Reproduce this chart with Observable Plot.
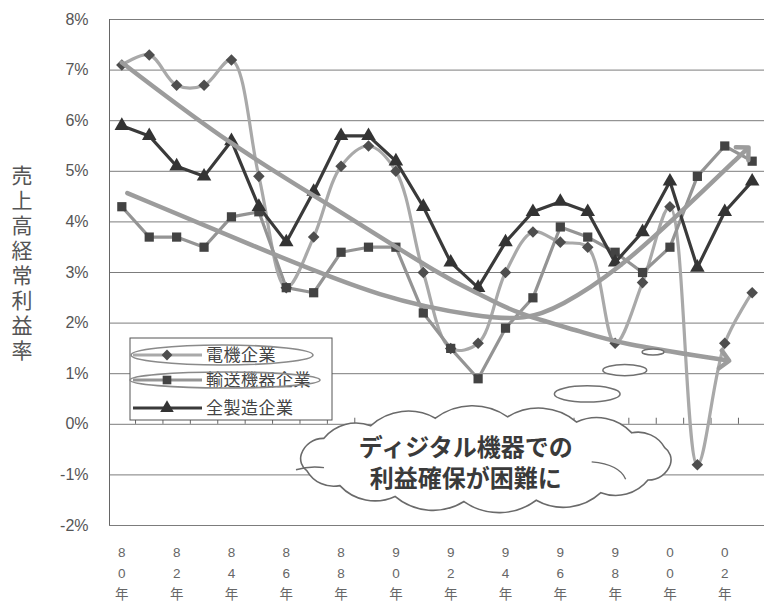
<!DOCTYPE html>
<html>
<head>
<meta charset="utf-8">
<script src="https://cdn.jsdelivr.net/npm/d3@7"></script>
<script src="https://cdn.jsdelivr.net/npm/@observablehq/plot@0.6"></script>
<style>
  html, body { margin: 0; padding: 0; background: #fff; }
  #chart svg { display: block; }
</style>
</head>
<body>
<div id="chart"></div>
<script>
// Fiscal years on the horizontal axis
const years = [1980, 1981, 1982, 1983, 1984, 1985, 1986, 1987, 1988, 1989, 1990, 1991,
               1992, 1993, 1994, 1995, 1996, 1997, 1998, 1999, 2000, 2001, 2002, 2003];

// Ordinary profit to sales ratio (%)
const electric  = [7.1, 7.3, 6.7, 6.7, 7.2, 4.9, 2.7, 3.7, 5.1, 5.5, 5.0, 3.0,
                   1.5, 1.6, 3.0, 3.8, 3.6, 3.5, 1.6, 2.8, 4.3, -0.8, 1.6, 2.6];
const transport = [4.3, 3.7, 3.7, 3.5, 4.1, 4.2, 2.7, 2.6, 3.4, 3.5, 3.5, 2.2,
                   1.5, 0.9, 1.9, 2.5, 3.9, 3.7, 3.4, 3.0, 3.5, 4.9, 5.5, 5.2];
const allMfg    = [5.9, 5.7, 5.1, 4.9, 5.6, 4.3, 3.6, 4.6, 5.7, 5.7, 5.2, 4.3,
                   3.2, 2.7, 3.6, 4.2, 4.4, 4.2, 3.2, 3.8, 4.8, 3.1, 4.2, 4.8];

const seriesNames = ["電機企業", "輸送機器企業", "全製造企業"];

// Hand-drawn trend arrows (year, %)
const declineYears  = [1980.0, 1984.0, 1987.7, 1991.9, 1993.0, 1994.3, 1996.8, 1998.1, 2002.0];
const declineValues = [7.15, 5.5, 4.3, 2.85, 2.6, 2.2, 1.83, 1.6, 1.27];
const recoveryYears  = [1980.2, 1985.0, 1989.6, 1993.1, 1994.7, 1996.0, 1998.1, 2000.4, 2002.75];
const recoveryValues = [4.57, 3.48, 2.46, 2.12, 2.06, 2.32, 3.05, 4.19, 5.41];

// Axis ticks and labels
const yTicks = [8, 7, 6, 5, 4, 3, 2, 1, 0, -1, -2];
const xTickYears  = [1980, 1982, 1984, 1986, 1988, 1990, 1992, 1994, 1996, 1998, 2000, 2002];
const xTickLabels = ["80年", "82年", "84年", "86年", "88年", "90年", "92年", "94年", "96年", "98年", "00年", "02年"];
const yTitle = "売上高経常利益率";

// Speech cloud annotation
const cloudText = "ディジタル機器での\n利益確保が困難に";
const cloudAnchor = {year: 1993.3, value: -0.7, halfYears: 7.0, halfValue: 1.04};
const cloudTextAnchor = {year: 1992.55, value: -0.73};
const bubbleYears  = [1997.0, 1998.37, 1999.4];
const bubbleValues = [0.59, 1.06, 1.42];
const bubbleHalfYears  = [1.2, 0.8, 0.4];
const bubbleHalfValues = [0.16, 0.11, 0.06];

// ---- derived tables ----
const rows = years.map((year, i) => ({year, electric: electric[i], transport: transport[i], allMfg: allMfg[i]}));
const decline = declineYears.map((year, i) => ({year, value: declineValues[i]}));
const recovery = recoveryYears.map((year, i) => ({year, value: recoveryValues[i]}));
const xTicks = xTickYears.map((year, i) => ({year, label: xTickLabels[i]}));
const categoryEdges = years.map(y => y + 0.5);
const bubbles = bubbleYears.map((year, i) => ({year, value: bubbleValues[i], hx: bubbleHalfYears[i], hy: bubbleHalfValues[i]}));

const fontNarrow = '"Liberation Sans Narrow", "Liberation Sans", "Noto Sans CJK JP", sans-serif';
const fontJP = '"Noto Sans CJK JP", "Noto Sans", sans-serif';

const styles = {
  electric:  {line: "#a9a9a9", mark: "#4e4e4e", symbol: "diamond2", curve: "catmull-rom"},
  transport: {line: "#949494", mark: "#434343", symbol: "square", curve: "linear"},
  allMfg:    {line: "#3a3a3a", mark: "#333333", symbol: "triangle", curve: "linear"}
};
const d3Symbols = {diamond2: d3.symbolDiamond2, square: d3.symbolSquare, triangle: d3.symbolTriangle};
const trendColor = "#9c9c9c";

// Scalloped cloud outline around an ellipse
function cloudPath(cx, cy, rx, ry, n) {
  const pts = d3.range(n).map(i => {
    const a = -Math.PI / 2 + 2 * Math.PI * (i + 0.3) / n;
    return [cx + rx * Math.cos(a), cy + ry * Math.sin(a)];
  });
  let d = `M${pts[0][0]},${pts[0][1]}`;
  for (let i = 0; i < n; i++) {
    const p = pts[i], q = pts[(i + 1) % n];
    const r = Math.hypot(q[0] - p[0], q[1] - p[1]) * 0.85;
    d += `A${r},${r} 0 0 1 ${q[0]},${q[1]}`;
  }
  return d + "Z";
}

function cloudMark(index, {x, y}) {
  const g = d3.create("svg:g");
  const cx = x(cloudAnchor.year), cy = y(cloudAnchor.value);
  const rx = x(cloudAnchor.year + cloudAnchor.halfYears) - cx;
  const ry = y(cloudAnchor.value - cloudAnchor.halfValue) - cy;
  g.append("path")
    .attr("d", cloudPath(cx, cy, rx - 6, ry - 10, 16))
    .attr("fill", "#fff").attr("stroke", "#6a6a6a").attr("stroke-width", 1.6);
  // inner folds of the cloud
  g.append("path")
    .attr("d", `M${cx - rx + 2},${cy + 0.2 * ry} Q${cx - rx + 16},${cy + 0.12 * ry} ${cx - rx + 30},${cy + 0.16 * ry}`)
    .attr("fill", "none").attr("stroke", "#6a6a6a").attr("stroke-width", 1.4);
  g.append("path")
    .attr("d", `M${cx + rx - 86},${cy + 0.05 * ry} Q${cx + rx - 58},${cy + 0.1 * ry} ${cx + rx - 52},${cy + 0.38 * ry}`)
    .attr("fill", "none").attr("stroke", "#6a6a6a").attr("stroke-width", 1.4);
  return g.node();
}

function bubbleMark(index, {x, y}) {
  const g = d3.create("svg:g");
  for (const b of bubbles) {
    g.append("ellipse")
      .attr("cx", x(b.year)).attr("cy", y(b.value))
      .attr("rx", x(b.year + b.hx) - x(b.year))
      .attr("ry", y(b.value - b.hy) - y(b.value))
      .attr("fill", "#fff").attr("stroke", "#707070").attr("stroke-width", 1.5);
  }
  return g.node();
}

function legendMark(index, scales, values, dims) {
  const g = d3.create("svg:g");
  const left = dims.marginLeft + 21, top = 338, w = 202, h = 82;
  g.append("rect").attr("x", left).attr("y", top).attr("width", w).attr("height", h)
    .attr("fill", "#fff").attr("stroke", "#555").attr("stroke-width", 1);
  const keys = ["electric", "transport", "allMfg"];
  const rowY = [17, 42, 70];
  keys.forEach((k, i) => {
    const s = styles[k], yy = top + rowY[i];
    g.append("line").attr("x1", left + 3).attr("x2", left + 72).attr("y1", yy).attr("y2", yy)
      .attr("stroke", s.line).attr("stroke-width", 3.2);
    g.append("path").attr("transform", `translate(${left + 37},${yy})`)
      .attr("d", d3.symbol(d3Symbols[s.symbol], s.symbol === "triangle" ? 80 : 75)())
      .attr("fill", s.mark);
    g.append("text").attr("x", left + 76).attr("y", yy).attr("dy", "0.36em")
      .attr("text-anchor", "start")
      .attr("font-family", fontJP).attr("font-size", 17).attr("fill", "#444")
      .attr("letter-spacing", "0.5px")
      .text(seriesNames[i]);
  });
  // highlight rings around the first two entries
  g.append("ellipse").attr("cx", left + 92).attr("cy", top + 17).attr("rx", 91).attr("ry", 10)
    .attr("fill", "none").attr("stroke", "#8a8a8a").attr("stroke-width", 1.6);
  g.append("ellipse").attr("cx", left + 95).attr("cy", top + 42).attr("rx", 95).attr("ry", 8)
    .attr("fill", "none").attr("stroke", "#8a8a8a").attr("stroke-width", 1.6);
  return g.node();
}

// Vertical axis title, set in vertical writing mode
function yTitleMark(index, scales, values, dims) {
  const t = d3.create("svg:text")
    .attr("x", 22).attr("y", dims.marginTop + 146)
    .attr("text-anchor", "start")
    .attr("font-family", fontJP).attr("font-size", 21).attr("fill", "#555")
    .attr("letter-spacing", "4px")
    .style("writing-mode", "vertical-rl")
    .style("text-orientation", "upright")
    .text(yTitle);
  return t.node();
}

const seriesMarks = [];
for (const k of ["electric", "transport", "allMfg"]) {
  const s = styles[k];
  seriesMarks.push(Plot.line(rows, {x: "year", y: k, stroke: s.line, strokeWidth: 3.2, curve: s.curve}));
}
for (const k of ["electric", "transport", "allMfg"]) {
  const s = styles[k];
  seriesMarks.push(Plot.dot(rows, {x: "year", y: k, symbol: () => s.symbol, fill: s.mark, stroke: "none",
                                   r: s.symbol === "triangle" ? 5.4 : 5.2}));
}

const chart = Plot.plot({
  width: 764,
  height: 602,
  marginLeft: 109,
  marginRight: 0,
  marginTop: 19,
  marginBottom: 77,
  x: {domain: [1979.55, 2003.45], axis: null},
  y: {domain: [-2, 8], axis: null},
  symbol: {type: "identity"},
  style: {background: "#fff", fontFamily: fontNarrow},
  marks: [
    Plot.ruleY(yTicks, {stroke: "#7c7c7c", strokeWidth: 1}),
    Plot.ruleX([1979.55], {stroke: "#666", strokeWidth: 1}),
    Plot.ruleX(categoryEdges, {y1: 0, y2: 0.12, stroke: "#666", strokeWidth: 1}),
    ...seriesMarks,
    Plot.line(decline, {x: "year", y: "value", curve: "basis", stroke: trendColor, strokeWidth: 4.5, markerEnd: "arrow"}),
    Plot.line(recovery, {x: "year", y: "value", curve: "basis", stroke: trendColor, strokeWidth: 4.5, markerEnd: "arrow"}),
    legendMark,
    cloudMark,
    bubbleMark,
    Plot.text([cloudText], {x: () => cloudTextAnchor.year, y: () => cloudTextAnchor.value, text: d => d,
      fontFamily: fontJP, fontSize: 24, fontWeight: "bold", fill: "#3a3a3a", lineHeight: 1.33}),
    Plot.text(yTicks, {y: d => d, text: d => `${d}%`, frameAnchor: "left", textAnchor: "end", dx: -21,
      fontSize: 16, fill: "#555", fontFamily: fontNarrow}),
    yTitleMark,
    Plot.text(xTicks, {x: "year", text: d => [...d.label].join("\n"), frameAnchor: "bottom", lineAnchor: "top",
      dy: 17, lineHeight: 1.55, fontSize: 13.5, fill: "#666", fontFamily: fontNarrow})
  ]
});

document.getElementById("chart").appendChild(chart);
</script>
</body>
</html>
